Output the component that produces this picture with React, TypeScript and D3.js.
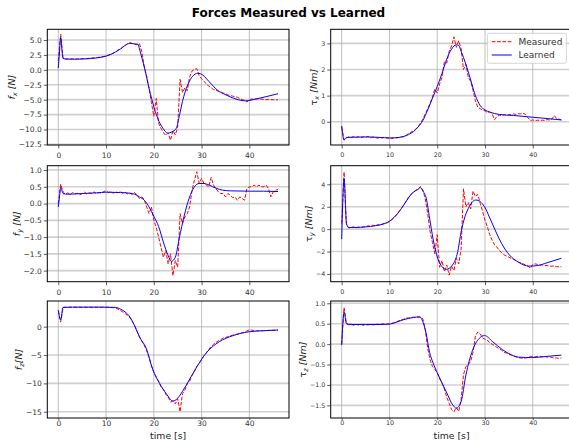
import React, { useEffect, useRef } from 'react';
import * as d3 from 'd3';

// sample times of the measured signals [s]
const tMeasured = [
  0, 0.5, 1, 1.5, 2, 2.5, 3, 3.5, 4, 4.5,
  5, 5.5, 6, 6.5, 7, 7.5, 8, 8.5, 9, 9.5,
  10, 10.5, 11, 11.5, 12, 12.5, 13, 13.5, 14, 14.5,
  15, 15.5, 16, 16.5, 17, 17.5, 18, 18.5, 19, 19.5,
  20, 20.5, 21, 21.5, 22, 22.5, 23, 23.5, 24, 24.5,
  25, 25.5, 26, 26.5, 27, 27.5, 28, 28.5, 29, 29.5,
  30, 30.5, 31, 31.5, 32, 32.5, 33, 33.5, 34, 34.5,
  35, 35.5, 36, 36.5, 37, 37.5, 38, 38.5, 39, 39.5,
  40, 40.5, 41, 41.5, 42, 42.5, 43, 43.5, 44, 44.5,
  45, 45.5, 46,
];

const fxMeasured = [
  1.5, 6.0, 2.0, 1.8, 1.85, 1.8, 1.85, 1.75, 1.85, 1.8,
  1.9, 1.85, 1.9, 1.95, 2.0, 2.0, 2.05, 2.1, 2.2, 2.25,
  2.3, 2.45, 2.6, 2.8, 3.0, 3.3, 3.5, 3.8, 4.1, 4.4,
  4.6, 4.4, 4.3, 4.2, 4.4, 3.0, 0.5, -1.0, -3.2, -5.5,
  -7.8, -4.8, -9.0, -9.8, -10.5, -11.0, -10.6, -11.8, -10.2, -10.9,
  -9.6, -1.6, -3.8, -3.0, -3.5, -1.2, -0.2, 0.1, 0.2, -1.0,
  -1.5, -1.9, -2.4, -2.7, -3.0, -3.3, -3.4, -3.6, -3.7, -3.9,
  -4.0, -4.2, -4.3, -4.4, -4.5, -4.6, -4.8, -5.0, -5.1, -5.4,
  -5.0, -4.9, -4.9, -4.85, -4.9, -4.9, -4.95, -5.0, -4.95, -5.0,
  -5.0, -5.05, -5.0,
];
const fxLearnedT = [0, 0.25, 0.5, 0.75, 1, 2, 4, 6, 8, 10, 11, 12, 13, 14, 15, 16, 16.7, 17, 17.7, 18, 18.75, 19.8, 20.8, 21.9, 22.9, 23.8, 24.7, 25.4, 26, 27.1, 28.1, 29.2, 30.2, 31.6, 33.3, 35.1, 37.2, 39.2, 41.3, 43.5, 46];
const fxLearnedV = [0.3, 3.0, 5.4, 3.5, 1.9, 1.8, 1.8, 1.85, 2.0, 2.3, 2.6, 3.0, 3.5, 4.1, 4.45, 4.35, 4.3, 3.5, 1.4, 0.5, -2.2, -5.6, -8.1, -9.8, -10.6, -10.4, -9.8, -7.5, -5.3, -2.5, -1.1, -0.57, -0.85, -2.0, -3.4, -4.2, -4.9, -5.2, -4.9, -4.5, -4.0];
const fxTicks = [-12.5, -10, -7.5, -5, -2.5, 0, 2.5, 5];

const txMeasured = [
  -0.2, -0.7, -0.62, -0.58, -0.6, -0.56, -0.6, -0.57, -0.61, -0.58,
  -0.6, -0.56, -0.62, -0.59, -0.6, -0.63, -0.6, -0.62, -0.58, -0.63,
  -0.62, -0.65, -0.6, -0.62, -0.6, -0.57, -0.58, -0.52, -0.45, -0.4,
  -0.35, -0.28, -0.2, -0.05, 0.1, 0.3, 0.5, 0.7, 0.95, 1.25,
  1.1, 1.45, 1.7, 2.3, 2.25, 2.7, 2.9, 3.25, 2.85, 3.1,
  2.8, 2.0, 2.2, 1.7, 1.55, 1.2, 0.8, 0.55, 0.5, 0.45,
  0.42, 0.35, 0.38, 0.3, 0.08, 0.2, 0.25, 0.22, 0.27, 0.25,
  0.28, 0.27, 0.3, 0.28, 0.31, 0.3, 0.32, 0.28, 0.15, 0.05,
  0.07, 0.04, 0.06, 0.05, 0.06, 0.05, 0.08, 0.07, 0.1, 0.24,
  0.12, 0.1, 0.07,
];
const txLearnedT = [0, 0.5, 1, 3, 5, 8, 10, 12, 13, 14, 15, 16, 17, 18, 19, 20, 21, 22, 23, 24, 24.5, 25, 26, 27, 28, 29, 30, 31, 33, 36, 39, 42, 46];
const txLearnedV = [-0.16, -0.7, -0.6, -0.59, -0.58, -0.6, -0.62, -0.6, -0.56, -0.49, -0.38, -0.2, 0.05, 0.45, 0.9, 1.35, 1.85, 2.4, 2.78, 2.95, 2.92, 2.7, 2.2, 1.6, 1.0, 0.62, 0.45, 0.37, 0.28, 0.24, 0.19, 0.14, 0.07];
const txTicks = [0, 1, 2, 3];

const fyMeasured = [
  0.0, 0.58, 0.35, 0.28, 0.32, 0.27, 0.33, 0.29, 0.31, 0.26,
  0.3, 0.34, 0.28, 0.32, 0.3, 0.35, 0.29, 0.33, 0.31, 0.36,
  0.38, 0.33, 0.36, 0.31, 0.35, 0.32, 0.37, 0.3, 0.33, 0.29,
  0.31, 0.27, 0.33, 0.25, 0.15, 0.2, 0.12, -0.1, -0.3, -0.1,
  -0.5, -0.7, -1.0, -1.3, -1.6, -1.4, -1.8, -1.5, -2.15, -1.7,
  -1.9, -0.3, -0.6, -0.4, -0.3, -0.1, 0.4, 0.7, 0.95, 0.6,
  0.75, 0.6, 0.55, 0.5, 0.78, 0.55, 0.45, 0.35, 0.3, 0.3,
  0.2, 0.3, 0.25, 0.18, 0.2, 0.1, 0.2, 0.15, 0.1, 0.45,
  0.5, 0.5, 0.55, 0.5, 0.55, 0.5, 0.5, 0.55, 0.45, 0.2,
  0.35, 0.4, 0.42,
];
const fyLearnedT = [0, 0.25, 0.5, 1, 2, 5, 8, 10, 13, 15, 16, 17, 18, 19, 20, 21, 22, 23, 23.7, 24.5, 25.3, 26.4, 27.4, 28.5, 29.5, 30.5, 31.6, 33, 34.4, 36, 40, 43, 46];
const fyLearnedV = [-0.1, 0.2, 0.48, 0.3, 0.28, 0.3, 0.32, 0.34, 0.33, 0.31, 0.28, 0.2, 0.1, -0.1, -0.38, -0.68, -1.15, -1.55, -1.72, -1.6, -1.05, -0.34, 0.16, 0.5, 0.6, 0.6, 0.55, 0.46, 0.4, 0.38, 0.37, 0.37, 0.36];
const fyTicks = [-2, -1.5, -1, -0.5, 0, 0.5, 1];

const tyMeasured = [
  0.5, 5.1, 0.3, 0.1, 0.15, 0.2, 0.1, 0.18, 0.15, 0.22,
  0.2, 0.3, 0.25, 0.35, 0.3, 0.4, 0.35, 0.45, 0.5, 0.55,
  0.7, 0.85, 1.05, 1.3, 1.6, 1.85, 2.2, 2.5, 2.85, 3.1,
  3.3, 3.45, 3.6, 3.8, 3.5, 2.7, 1.4, -0.2, -1.2, -2.2,
  -0.5, -3.4, -2.8, -3.8, -3.2, -4.1, -3.3, -3.7, -2.6, -3.1,
  -1.8, 3.6, 2.0, 2.4, 1.8, 3.4, 2.9, 3.1, 2.3, 1.6,
  0.8, 0.2, -0.5, -1.0, -1.4, -1.6, -1.9, -2.1, -2.3, -2.4,
  -2.5, -2.6, -2.7, -2.8, -2.95, -3.0, -3.1, -3.2, -3.3, -3.5,
  -3.15, -3.1, -3.15, -3.2, -3.2, -3.25, -3.25, -3.3, -3.3, -3.3,
  -3.35, -3.35, -3.35,
];
const tyLearnedT = [0, 0.5, 1, 1.5, 3, 5, 7, 9, 10, 11, 12, 13, 14, 15, 16, 16.5, 17, 17.7, 18.4, 19.1, 20.1, 21, 21.9, 22.5, 23.2, 24.3, 25, 25.8, 26.7, 27.4, 28.1, 29, 29.9, 31, 32.3, 33.5, 35.1, 37, 39.2, 41, 43, 46];
const tyLearnedV = [-0.9, 4.5, 0.5, 0.15, 0.15, 0.2, 0.3, 0.5, 0.7, 1.05, 1.55, 2.15, 2.8, 3.3, 3.55, 3.7, 3.4, 2.75, 1.0, -0.8, -2.6, -3.35, -3.58, -3.5, -3.2, -2.0, -0.25, 1.1, 2.0, 2.45, 2.6, 2.45, 2.0, 1.0, -0.25, -1.3, -2.3, -2.95, -3.3, -3.25, -3.0, -2.6];
const tyTicks = [-4, -2, 0, 2, 4];

const fzMeasured = [
  2.8, 0.8, 3.4, 3.45, 3.4, 3.45, 3.4, 3.45, 3.4, 3.45,
  3.4, 3.45, 3.4, 3.45, 3.4, 3.45, 3.4, 3.45, 3.4, 3.45,
  3.4, 3.45, 3.4, 3.35, 3.3, 3.1, 2.85, 2.6, 2.3, 2.0,
  1.6, 0.9, 0.2, -0.8, -1.8, -2.6, -3.3, -4.2, -5.4, -6.9,
  -8.0, -8.9, -9.6, -10.6, -11.0, -11.9, -12.4, -13.3, -13.1, -13.6,
  -12.7, -15.0, -11.8, -11.2, -10.0, -9.6, -8.6, -7.9, -7.0, -6.5,
  -5.8, -5.1, -4.6, -4.0, -3.5, -3.1, -2.8, -2.5, -2.3, -2.0,
  -1.9, -1.75, -1.6, -1.5, -1.4, -1.3, -1.2, -1.05, -0.95, -0.75,
  -0.55, -0.6, -0.7, -0.75, -0.7, -0.72, -0.7, -0.68, -0.65, -0.62,
  -0.62, -0.6, -0.58,
];
const fzLearnedT = [0, 0.5, 1, 3, 6, 9, 12, 13, 14, 15, 16, 17, 18.4, 19.8, 21.2, 22.6, 24, 25, 26, 26.8, 28.8, 30.9, 33.7, 36.5, 39.9, 43, 46];
const fzLearnedV = [2.9, 1.2, 3.4, 3.45, 3.45, 3.45, 3.4, 3.1, 2.6, 1.7, 0.1, -1.8, -3.8, -7.6, -10.0, -11.8, -13.1, -12.6, -11.4, -10.3, -7.35, -4.7, -2.65, -1.6, -0.9, -0.7, -0.6];
const fzTicks = [-15, -10, -5, 0];

const tzMeasured = [
  0.0, 0.9, 0.5, 0.47, 0.49, 0.46, 0.48, 0.47, 0.49, 0.46,
  0.48, 0.47, 0.49, 0.47, 0.48, 0.49, 0.48, 0.5, 0.49, 0.5,
  0.49, 0.51, 0.52, 0.55, 0.57, 0.6, 0.61, 0.64, 0.64, 0.65,
  0.66, 0.65, 0.66, 0.66, 0.62, 0.35, -0.1, -0.38, -0.55, -0.62,
  -0.7, -0.85, -0.95, -1.1, -1.3, -1.45, -1.6, -1.66, -1.55, -1.65,
  -1.35, -0.75, -0.55, -0.5, -0.42, -0.2, 0.2, 0.3, 0.25, 0.15,
  0.12, 0.1, 0.03, 0.0, -0.04, -0.08, -0.12, -0.15, -0.2, -0.22,
  -0.25, -0.27, -0.3, -0.31, -0.33, -0.34, -0.35, -0.34, -0.33, -0.3,
  -0.3, -0.31, -0.3, -0.3, -0.31, -0.3, -0.32, -0.31, -0.33, -0.34,
  -0.34, -0.35, -0.34,
];
const tzLearnedT = [0, 0.5, 1, 2, 5, 8, 10, 11, 12, 13, 14, 15, 16.3, 16.8, 17.7, 18.4, 19.1, 20, 20.8, 21.9, 23.25, 24, 25, 26, 27.4, 28.8, 29.9, 31.6, 33.7, 35.5, 37.1, 39.9, 43, 46];
const tzLearnedV = [-0.02, 0.79, 0.5, 0.48, 0.48, 0.48, 0.49, 0.52, 0.56, 0.6, 0.63, 0.65, 0.67, 0.6, 0.25, -0.2, -0.45, -0.7, -0.9, -1.17, -1.49, -1.57, -1.41, -0.76, -0.15, 0.14, 0.21, 0.06, -0.14, -0.26, -0.32, -0.33, -0.3, -0.27];
const tzTicks = [-1.5, -1, -0.5, 0, 0.5, 1];

const timeTicks = [0, 10, 20, 30, 40];
const legendLabels = ['Measured', 'Learned'];

// layout
const W = 569, H = 442;
const COL_X = [47.3, 330.7];
const PANEL_W = 241.7;
const ROW_Y = [29.3, 165.7, 301];
const ROW_H = [115.7, 116, 117];
const ROW_XTICK = [[3.5, 4.5], [3.5, 4.5], [2, 1]]; // tick length, padding
const TICK_FONT = [7.5, 6.3];
const FONT = 'DejaVu Sans, sans-serif';
const RED = '#ff0000';
const BLUE = '#0000ff';

const panels = [
  { col: 0, row: 0, sym: 'f', sub: 'x', unit: ' [N]', greek: false, yDomain: [-12.6, 6.8], yTicks: fxTicks, dec: true, meas: fxMeasured, lt: fxLearnedT, lv: fxLearnedV },
  { col: 1, row: 0, sym: 'τ', sub: 'x', unit: ' [Nm]', greek: true, yDomain: [-0.89, 3.54], yTicks: txTicks, dec: false, meas: txMeasured, lt: txLearnedT, lv: txLearnedV, legend: true },
  { col: 0, row: 1, sym: 'f', sub: 'y', unit: ' [N]', greek: false, yDomain: [-2.33, 1.13], yTicks: fyTicks, dec: true, meas: fyMeasured, lt: fyLearnedT, lv: fyLearnedV },
  { col: 1, row: 1, sym: 'τ', sub: 'y', unit: ' [Nm]', greek: true, yDomain: [-4.69, 5.66], yTicks: tyTicks, dec: false, meas: tyMeasured, lt: tyLearnedT, lv: tyLearnedV },
  { col: 0, row: 2, sym: 'f', sub: 'z', unit: '[N]', greek: false, yDomain: [-16.1, 4.53], yTicks: fzTicks, dec: false, meas: fzMeasured, lt: fzLearnedT, lv: fzLearnedV },
  { col: 1, row: 2, sym: 'τ', sub: 'z', unit: ' [Nm]', greek: true, yDomain: [-1.81, 1.056], yTicks: tzTicks, dec: true, meas: tzMeasured, lt: tzLearnedT, lv: tzLearnedV },
];

const minus = (s: string) => s.replace('-', '\u2212');

const App = () => {
  const ref = useRef<SVGSVGElement>(null);

  useEffect(() => {
    const svg = d3.select(ref.current);
    svg.selectAll('*').remove();

    svg.append('text')
      .attr('x', 288.5).attr('y', 17.3)
      .attr('text-anchor', 'middle')
      .attr('font-family', FONT).attr('font-weight', 'bold').attr('font-size', 12)
      .text('Forces Measured vs Learned');

    panels.forEach((p, i) => {
      const x0 = COL_X[p.col], y0 = ROW_Y[p.row], h = ROW_H[p.row];
      const fs = TICK_FONT[p.col];
      const x = d3.scaleLinear().domain([-2.3, 48.3]).range([0, PANEL_W]);
      const y = d3.scaleLinear().domain(p.yDomain).range([h, 0]);
      const g = svg.append('g').attr('transform', `translate(${x0},${y0})`);

      g.append('clipPath').attr('id', `clip${i}`)
        .append('rect').attr('width', PANEL_W).attr('height', h);

      // grid
      g.append('g').selectAll('line').data(p.yTicks).join('line')
        .attr('x1', 0).attr('x2', PANEL_W)
        .attr('y1', d => y(d)).attr('y2', d => y(d))
        .attr('stroke', '#d0d0d0').attr('stroke-width', 1.6);
      g.append('g').selectAll('line').data(timeTicks).join('line')
        .attr('x1', d => x(d)).attr('x2', d => x(d))
        .attr('y1', 0).attr('y2', h)
        .attr('stroke', '#b0b0b0').attr('stroke-width', 0.8);

      // curves
      const plot = g.append('g').attr('clip-path', `url(#clip${i})`);
      const measLine = d3.line<number>().x((_, k) => x(tMeasured[k])).y(d => y(d));
      plot.append('path').attr('d', measLine(p.meas))
        .attr('fill', 'none').attr('stroke', RED).attr('stroke-width', 1)
        .attr('stroke-dasharray', '3.7,1.6');
      const learnLine = d3.line<number>().x((_, k) => x(p.lt[k])).y(d => y(d)).curve(d3.curveMonotoneX);
      plot.append('path').attr('d', learnLine(p.lv))
        .attr('fill', 'none').attr('stroke', BLUE).attr('stroke-width', 1);

      // frame
      g.append('rect').attr('width', PANEL_W).attr('height', h)
        .attr('fill', 'none').attr('stroke', '#000').attr('stroke-width', 1);

      // axes
      const fmt = p.dec ? d3.format('.1f') : d3.format('d');
      const [tl, tp] = ROW_XTICK[p.row];
      const xAxis = g.append('g').attr('transform', `translate(0,${h})`)
        .call(d3.axisBottom(x).tickValues(timeTicks).tickSize(tl).tickPadding(tp).tickFormat(d => String(d)));
      const yAxis = g.append('g')
        .call(d3.axisLeft(y).tickValues(p.yTicks).tickSize(3.5).tickPadding(2).tickFormat(d => minus(fmt(d as number))));
      [xAxis, yAxis].forEach(a => {
        a.select('.domain').remove();
        a.selectAll('line').attr('stroke', '#333').attr('stroke-width', 0.8);
        a.selectAll('text').attr('font-family', FONT).attr('font-size', fs).attr('fill', '#333');
      });

      // y label, placed just left of the tick labels
      const bb = (yAxis.node() as SVGGElement).getBBox();
      const lx = bb.x - 4;
      const lab = g.append('text')
        .attr('transform', `translate(${lx},${h / 2}) rotate(-90)`)
        .attr('text-anchor', 'middle')
        .attr('font-family', FONT).attr('font-size', 9.5).attr('fill', '#222');
      lab.append('tspan').attr('font-style', p.greek ? 'normal' : 'italic').text(p.sym);
      lab.append('tspan').attr('font-style', 'italic').attr('font-size', 6.7).attr('dy', 2).text(p.sub);
      lab.append('tspan').attr('font-style', 'italic').attr('dy', -2).text(p.unit);

      if (p.row === 2) {
        g.append('text')
          .attr('x', PANEL_W / 2).attr('y', h + 21)
          .attr('text-anchor', 'middle')
          .attr('font-family', FONT).attr('font-size', 9.3).attr('fill', '#222')
          .text('time [s]');
      }

      if (p.legend) {
        const lg = g.append('g').attr('transform', `translate(${PANEL_W - 85},4)`);
        lg.append('rect').attr('width', 79).attr('height', 30).attr('rx', 2)
          .attr('fill', 'white').attr('fill-opacity', 0.8)
          .attr('stroke', '#cccccc').attr('stroke-width', 0.8);
        legendLabels.forEach((name, k) => {
          const yy = 8.4 + k * 13.3;
          lg.append('line').attr('x1', 4.4).attr('x2', 24.4).attr('y1', yy).attr('y2', yy)
            .attr('stroke', k === 0 ? RED : BLUE).attr('stroke-width', 1)
            .attr('stroke-dasharray', k === 0 ? '3.7,1.6' : null);
          lg.append('text').attr('x', 31).attr('y', yy + 3.3)
            .attr('font-family', FONT).attr('font-size', 9).attr('fill', '#333')
            .text(name);
        });
      }
    });
  }, []);

  return (
    <svg ref={ref} width={W} height={H} style={{ display: 'block', position: 'absolute', left: 0, top: 0, background: 'white' }} />
  );
};

export default App;
